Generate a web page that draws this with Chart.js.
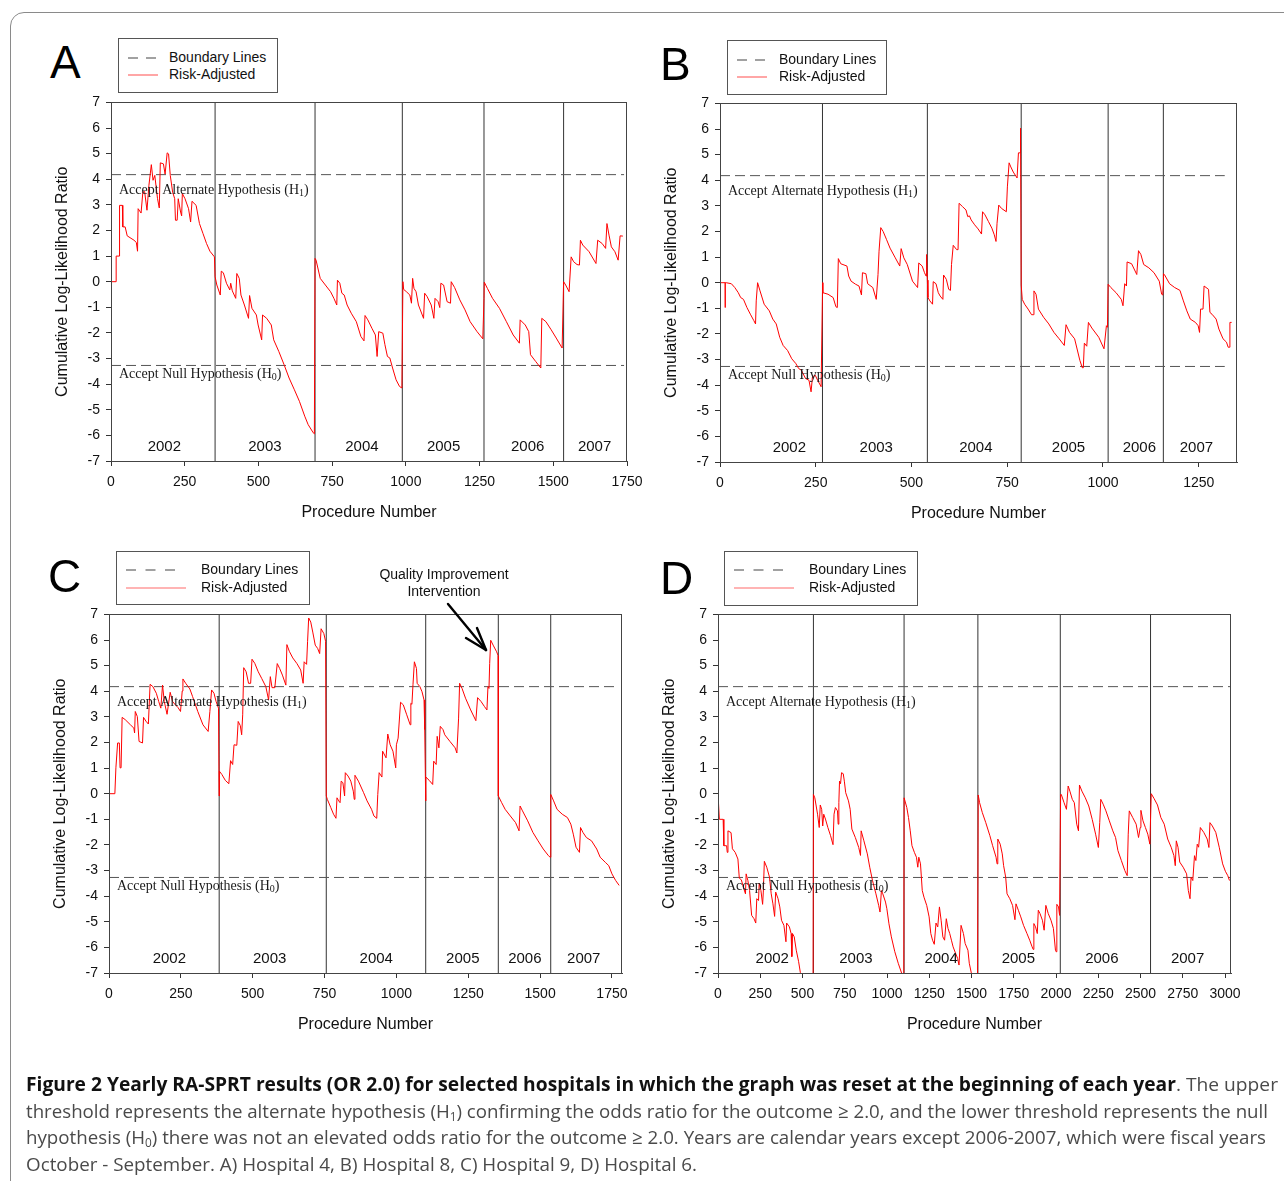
<!DOCTYPE html>
<html><head><meta charset="utf-8">
<script src="https://cdn.jsdelivr.net/npm/chart.js@4.4.0/dist/chart.umd.min.js"></script>
<style>
html,body{margin:0;padding:0;background:#fff;}
body{width:1284px;height:1181px;position:relative;overflow:hidden;font-family:"Liberation Sans",Arial,sans-serif;}
.frame{position:absolute;left:10px;top:12px;width:1300px;height:1200px;border:1px solid #8a8a8a;border-radius:14px;}
.letter{position:absolute;font-size:46px;line-height:46px;color:#000;}
.legend{position:absolute;border:1px solid #555;background:#fff;font-size:14px;color:#111;box-sizing:border-box;}
.legend .txt{position:absolute;line-height:16px;white-space:nowrap;}
.legend svg{position:absolute;}
canvas{position:absolute;}
.note{position:absolute;font-size:14px;line-height:17px;color:#111;text-align:center;width:200px;}
.cap{position:absolute;left:26px;top:1071px;font-family:"Open Sans","DejaVu Sans",sans-serif;font-size:19px;color:#4a4a4a;}
.cap .ln{height:26.7px;line-height:26.7px;white-space:nowrap;transform-origin:0 50%;display:block;}
.cap .ln span{display:inline-block;}
.cap b{color:#111;}
.cap sub{font-size:12px;vertical-align:-3px;line-height:0;}
</style></head>
<body>
<div class="frame"></div>

<script>
// ---------------- DATA ----------------
const years = ['2002','2003','2004','2005','2006','2007'];
const yTicks = [-7,-6,-5,-4,-3,-2,-1,0,1,2,3,4,5,6,7];
const xTicksA = [0,250,500,750,1000,1250,1500,1750];
const xTicksB = [0,250,500,750,1000,1250];
const xTicksC = [0,250,500,750,1000,1250,1500,1750];
const xTicksD = [0,250,500,750,1000,1250,1500,1750,2000,2250,2500,2750,3000];
const upperBoundary = 4.18;   // accept H1
const lowerBoundary = -3.27;  // accept H0

// year reset points (procedure number)
const yearStartA = [353,692,988,1265,1535];
const yearStartB = [267.6,541.5,786.5,1013.5,1157.7];
const yearStartC = [383.4,756,1102,1354.6,1537];
const yearStartD = [564.6,1100.8,1537.5,2025,2559];

// where the year names sit (procedure number)
const yearLabelXA = [181,522,851,1128,1413,1640];
const yearLabelXB = [181,408,668,910,1095,1244];
const yearLabelXC = [210,559,930,1231,1447,1652];
const yearLabelXD = [321,816,1320,1777,2271,2778];

const xMaxA = 1750, xMaxB = 1350, xMaxC = 1785, xMaxD = 3035;
const boundaryEndA = 1740, boundaryEndB = 1318, boundaryEndC = 1763, boundaryEndD = 3035;

// Risk-adjusted cumulative log-likelihood ratio: [procedure number, CLLR]
const hospA = [[0,0],[17.5,0],[17.5,1.0],[28,1.0],[29,2.98],[38.6,2.98],[40,2.14],[48,2.14],[55,1.79],[78,1.62],[86,1.53],[90,1.19],[92,2.85],[102,2.68],[108,3.5],[114,3.52],[122,2.79],[128.6,3.76],[136.8,4.57],[142.6,3.96],[148.5,4.15],[157.8,3.24],[163.7,2.88],[167.2,4.64],[177.7,4.6],[183.5,4.2],[190.5,5.03],[195.2,4.99],[201,4.15],[209,3.5],[216,3.24],[218.6,2.4],[224.4,2.4],[228,3.24],[236,2.72],[239.6,2.57],[242,3.44],[251,3.24],[263,2.85],[270,2.33],[274.7,3.14],[288.7,2.98],[300,2.27],[312,1.88],[324,1.49],[335.5,1.19],[350.7,0.97],
[353,0.19],[359,-0.13],[370.6,-0.52],[374,0.41],[381,0.35],[391.6,-0.06],[403,-0.32],[406,-0.06],[411.5,-0.36],[423,-0.65],[426.7,0.32],[435,0.13],[440.7,-0.52],[452.4,-0.91],[466.4,-1.43],[470,-0.54],[478,-1.04],[493,-1.3],[499,-1.69],[511,-2.27],[514,-1.3],[528,-1.43],[543.6,-1.69],[551.8,-2.27],[569,-2.72],[587,-3.24],[604,-3.76],[622,-4.22],[639,-4.67],[657,-5.25],[668.7,-5.58],[686,-5.9],[689.7,-5.94],
[692,0.91],[695.5,0.84],[709.6,0.13],[727,-0.13],[744.6,-0.39],[756,-0.65],[765.7,-0.91],[768,0.06],[776,-0.06],[783,-0.45],[791,-0.52],[800.8,-0.91],[814.8,-1.23],[832,-1.56],[847.5,-2.14],[858,-2.31],[861.5,-1.32],[871,-1.49],[885,-1.82],[896.6,-2.08],[902.5,-2.92],[908,-1.95],[922,-2.01],[929,-2.46],[937.5,-2.92],[945.7,-2.98],[955,-3.37],[966.8,-3.83],[978.5,-4.09],[986.6,-4.15],
[990,0],[992.5,-0.3],[1001.8,-0.39],[1013.5,-0.52],[1019,-0.84],[1023,0.13],[1027.5,-0.26],[1034.6,-0.39],[1042.7,-0.91],[1060,-1.43],[1063.8,-0.45],[1072,-0.58],[1086,-0.91],[1095,-1.43],[1098.9,-0.65],[1109.4,-0.78],[1115,-1.01],[1118.7,-0.06],[1128,-0.13],[1139.8,-0.78],[1151.5,-0.84],[1153.8,0],[1165.5,-0.23],[1183,-0.71],[1200.6,-1.1],[1218,-1.56],[1241.5,-1.95],[1261,-2.23],
[1265,-0.65],[1266,-0.02],[1276.5,-0.26],[1294,-0.65],[1317.5,-1.04],[1341,-1.56],[1364,-2.08],[1385,-2.4],[1387.6,-1.49],[1405,-1.69],[1416.8,-1.95],[1422.7,-2.85],[1440,-3.11],[1457.7,-3.37],[1461,-1.43],[1475,-1.56],[1493,-1.88],[1510,-2.2],[1530,-2.59],
[1535,0],[1542,-0.13],[1553.6,-0.39],[1560.6,0.97],[1569,0.78],[1580.5,0.67],[1588.7,0.65],[1592,1.62],[1600,1.43],[1621.4,1.17],[1644.8,0.71],[1650.6,1.62],[1665.8,1.49],[1677.5,1.3],[1682,2.27],[1689,1.82],[1697,1.36],[1709,1.17],[1720,0.84],[1726.6,1.79],[1736,1.78]];

const hospB = [[0,0],[13.5,0],[13.6,-0.97],[13.8,0],[16.2,0],[29.7,-0.04],[38.7,-0.19],[47.7,-0.39],[54,-0.58],[61.3,-0.65],[70.3,-0.97],[79.3,-1.23],[88.3,-1.48],[92.8,-1.61],[94.6,-0.71],[98.2,0],[104.5,-0.32],[115.3,-0.84],[128.8,-1.1],[137.8,-1.42],[146.8,-1.61],[155.9,-2.13],[164.9,-2.45],[176.6,-2.65],[187.4,-2.97],[198.2,-3.16],[205.4,-3.35],[212.6,-3.42],[223.4,-3.74],[232.4,-3.81],[237.8,-4.26],[241.4,-3.68],[248.6,-3.61],[255,-3.81],[264,-4.06],
[268,0],[268.5,-0.39],[282,-0.45],[295.5,-0.58],[302.7,-0.94],[306.3,-0.97],[309,0.94],[315.3,0.74],[331.5,0.65],[336,0.26],[342.3,0.06],[354,-0.06],[363,-0.13],[369.4,-0.48],[372,0.39],[381,0.35],[385.6,-0.04],[399,-0.19],[408,-0.65],[412.6,0.32],[415.3,1.23],[419.8,2.15],[426,2.0],[435,1.68],[444,1.35],[457.7,0.97],[469.4,0.65],[473,1.33],[480,0.97],[489,0.71],[502.7,0.06],[516,-0.19],[519,0.77],[528,0.65],[534,0.39],[538,0.26],[539.5,1.1],
[541.5,0.1],[543,-0.58],[548,-0.71],[555,-0.84],[556.8,0.04],[564,-0.04],[570,-0.39],[574.8,-0.52],[582,-0.65],[583.8,0.3],[591,0.13],[597.3,-0.26],[601.8,-0.3],[604.5,0.71],[609,1.46],[618,1.29],[621.6,1.29],[624.3,3.1],[633.3,2.97],[642.3,2.84],[646.9,2.58],[651.3,2.61],[655.9,2.45],[664.9,2.26],[673.9,2.1],[682.9,1.9],[685.6,2.77],[691.9,2.65],[700.9,2.39],[709.9,2.13],[716.2,1.87],[720.7,1.61],[723.4,2.32],[727.9,3.03],[735.1,2.9],[747.7,2.77],[750.4,3.74],[754.9,4.68],[759.4,4.52],[765.8,4.32],[775.7,4.09],[779.3,5.07],[783.8,5.07],[784.7,6.03],
[786.5,-0.09],[789.2,-0.65],[795.5,-0.84],[804.5,-1.03],[813.5,-1.25],[818,-1.25],[819.8,-0.32],[825.2,-0.45],[831.5,-1.03],[845,-1.35],[858.6,-1.61],[872,-1.94],[885.6,-2.19],[899,-2.45],[903.6,-1.64],[912.6,-1.94],[926,-2.19],[939.6,-3.03],[946,-3.32],[948.7,-3.32],[951.4,-2.36],[957.7,-2.48],[962,-1.55],[971,-1.77],[989,-2.13],[1002.7,-2.58],[1009,-1.68],[1011.7,-1.74],
[1013.5,-0.06],[1020.7,-0.19],[1034.2,-0.39],[1047.8,-0.65],[1052.3,-0.9],[1056.8,-0.04],[1061.3,-0.13],[1063,0.81],[1074.8,0.74],[1088.3,0.32],[1092.8,1.25],[1099,1.1],[1106.3,0.71],[1119.8,0.58],[1133.3,0.39],[1147,0.06],[1153.2,-0.45],[1156,-0.48],
[1157.7,-0.1],[1158,0.35],[1160.4,0.32],[1173.9,-0.04],[1187.4,-0.19],[1201,-0.3],[1210,-0.71],[1219,-1.1],[1228,-1.42],[1241.4,-1.55],[1248.6,-1.68],[1252.2,-1.94],[1254.9,-1.03],[1261.3,-1.03],[1264,-0.13],[1275.7,-0.26],[1279.3,-1.16],[1284.7,-1.23],[1295.5,-1.42],[1302.7,-1.81],[1313.5,-2.19],[1322.5,-2.32],[1327,-2.52],[1329.7,-2.52],[1331.5,-1.55],[1336,-1.55]];

const hospC = [[0,0],[20.4,0],[24,1.01],[30,1.98],[36,1.98],[38.5,1.01],[42,1.01],[45.7,2.98],[56.5,2.89],[74.5,2.69],[86.5,2.56],[89,2.37],[91.4,3.21],[98.6,3.01],[104.6,2.04],[116.6,1.98],[120.2,2.98],[128.6,2.83],[137,2.72],[143,4.27],[152.7,4.18],[164.7,3.92],[173,3.6],[180.3,3.34],[186.3,4.24],[192.3,3.6],[202,3.1],[212.8,3.96],[221.2,3.6],[230.8,3.47],[240.4,3.36],[248.8,3.21],[254.8,4.01],[257.2,4.48],[266.8,4.31],[281.3,4.09],[290.9,3.79],[308.9,3.21],[327,2.69],[345,2.43],[351,3.21],[357,4.05],[365.4,3.92],[372.6,3.6],[381,3.34],
[383.4,-0.09],[384,0.88],[392.8,0.75],[404.8,0.52],[417,0.39],[423,1.29],[430.3,1.14],[435,1.91],[444.7,1.89],[449.5,2.82],[456.8,2.66],[461.6,2.3],[465.2,3.08],[468.8,4.92],[477.2,4.76],[485.6,4.31],[492.8,4.31],[497.6,5.25],[507.2,5.09],[519.3,4.76],[531.3,4.5],[545.7,4.18],[555.3,3.66],[561.3,4.57],[567.3,4.14],[577,4.14],[585.4,5.08],[593.8,4.89],[603.4,4.63],[615.4,4.24],[619,5.82],[627.4,5.56],[639.5,5.3],[653.9,5.08],[667,4.83],[675.5,4.31],[679,5.15],[687.5,5.05],[691,5.95],[694.8,6.86],[702,6.7],[709,6.31],[717.6,5.8],[726,5.67],[733,5.47],[738,6.44],[747.6,6.25],[753.6,5.95],
[756,-0.09],[759.7,-0.22],[771.7,-0.54],[781.3,-0.8],[789.7,-0.96],[793.3,-0.16],[799.3,-0.28],[804,-0.35],[807.8,0.49],[813.8,0.43],[819.8,-0.09],[822.2,0.82],[831.8,0.69],[841.4,0.49],[850,0.1],[853.4,-0.22],[855.8,0.72],[867.9,0.49],[885.9,0.04],[897.9,-0.28],[913.5,-0.61],[921.9,-0.87],[931.6,-0.96],[935.2,-0.03],[940,0.82],[949.6,0.65],[952,1.66],[964,1.4],[970,2.33],[978.4,1.91],[988,1.66],[997.7,1.01],[1000,1.91],[1006,2.17],[1014.5,3.57],[1024,3.47],[1036,3.08],[1048,2.69],[1050.3,3.53],[1054,3.49],[1057.8,4.27],[1062.6,5.15],[1069.8,4.89],[1072.2,4.31],[1081.8,4.18],[1089.2,3.98],[1096.2,3.66],[1098.6,2.5],
[1102,-0.28],[1102.5,0.65],[1114.3,0.52],[1126.3,0.36],[1129.9,1.27],[1138.3,1.14],[1141.9,2.24],[1147.9,1.79],[1152.7,2.63],[1162.3,2.5],[1168.3,2.3],[1186.4,2.04],[1204.4,1.79],[1210.4,1.59],[1216.4,2.95],[1220,4.31],[1228.4,4.11],[1240.5,3.73],[1258.5,3.27],[1276.5,2.85],[1282.5,3.75],[1294.5,3.6],[1306.6,3.4],[1315,3.27],[1318.6,4.18],[1322.2,4.11],[1324.6,5.08],[1328.2,5.99],[1336.6,5.8],[1348.7,5.54],[1354.4,5.38],
[1354.8,-0.09],[1366.3,-0.35],[1378.4,-0.61],[1396.4,-0.87],[1414.8,-1.13],[1426.8,-1.45],[1430.4,-0.48],[1438.8,-0.67],[1456.8,-1.06],[1474.9,-1.51],[1492.9,-1.84],[1511,-2.16],[1529,-2.42],[1535,-2.48],
[1537.2,-0.03],[1547,-0.28],[1559,-0.61],[1577,-0.8],[1595,-0.93],[1607,-1.19],[1615.5,-1.58],[1625,-2.09],[1637,-2.29],[1640.7,-1.32],[1649,-1.51],[1661,-1.71],[1679,-1.84],[1697,-2.16],[1709,-2.48],[1727,-2.68],[1739,-2.81],[1750,-3.13],[1763,-3.39],[1775,-3.58]];

const hospD = [[0,0],[4,0],[8,-1.0],[30.5,-1.0],[34.5,-2.03],[50.8,-2.03],[54.8,-2.29],[58.9,-1.45],[77.2,-1.52],[85.3,-2.15],[101.6,-2.29],[117.8,-2.55],[126,-3.3],[138,-3.36],[152,-3.69],[162.5,-3.91],[166.5,-3.13],[176.7,-3.39],[186.9,-3.78],[199,-4.75],[213,-4.88],[223.4,-5.05],[229.5,-4.1],[239.7,-4.17],[243.7,-3.49],[253.9,-3.78],[264,-4.32],[268,-3.84],[274.2,-2.64],[288.4,-2.87],[304.7,-3.26],[314.8,-3.91],[325,-4.3],[335,-4.79],[341.2,-3.84],[355.4,-4.1],[365.6,-4.42],[375.7,-4.94],[390,-5.14],[402,-5.78],[406,-5.05],[422.4,-5.2],[432.6,-5.46],[436.7,-6.36],[440.7,-5.46],[451,-5.59],[463,-6.11],[477,-6.56],[487.4,-6.99],[540,-8.6],[562,-9.0],
[564.6,-0.03],[572.7,-0.16],[589,-0.8],[599,-1.32],[605,-0.44],[613.4,-0.61],[619.5,-1.26],[625.5,-0.8],[635.7,-0.99],[650,-1.32],[666,-1.64],[680.4,-1.99],[686.5,-0.8],[694.6,-0.54],[706.8,-0.67],[710.9,-1.19],[715,-0.35],[719,0.49],[725,0.39],[731,0.82],[741,0.78],[747.4,0.49],[755.5,0.04],[771.8,-0.28],[782,-0.61],[792,-1.38],[812.4,-1.71],[832.7,-2.1],[843,-2.41],[847,-1.45],[863.2,-1.84],[883.5,-2.35],[897.7,-2.87],[914,-3.39],[934.3,-3.91],[950.5,-4.36],[958.6,-4.62],[966.8,-3.78],[975,-3.91],[991,-4.23],[999,-4.49],[1011.4,-5.08],[1025.6,-5.59],[1046,-6.17],[1066.3,-6.62],[1086.6,-7.01],[1099,-7.4],
[1101,-0.16],[1117,-0.54],[1127,-0.93],[1137.4,-1.45],[1147.5,-2.03],[1161.7,-2.29],[1174,-2.48],[1182,-2.87],[1188,-2.48],[1198,-2.74],[1208.4,-3.78],[1218.6,-4.04],[1234.8,-4.36],[1249,-4.81],[1259,-5.46],[1269.4,-5.72],[1279.5,-5.88],[1289.7,-5.05],[1300,-5.2],[1310,-4.42],[1320,-4.94],[1330.3,-5.59],[1340.5,-5.72],[1350.6,-4.88],[1360.8,-5.26],[1371,-5.46],[1381,-5.72],[1391,-5.98],[1405.5,-6.23],[1417.6,-6.43],[1425.8,-6.69],[1438,-5.14],[1452,-5.46],[1462.3,-5.85],[1478.6,-6.11],[1486.7,-6.62],[1499,-7.01],[1535,-7.8],
[1539.5,-0.05],[1547.6,-0.35],[1563.9,-0.74],[1584.2,-1.13],[1608.5,-1.64],[1624.8,-2.03],[1645,-2.48],[1651.2,-2.74],[1655.3,-1.77],[1669.5,-1.97],[1681.7,-2.35],[1689.8,-2.81],[1702,-3.26],[1710,-3.91],[1726.4,-4.1],[1742.6,-4.36],[1756.8,-4.92],[1763,-4.3],[1777,-4.55],[1791.3,-4.81],[1807.6,-5.14],[1828,-5.46],[1844,-5.72],[1858.4,-5.98],[1864.8,-6.08],[1868.7,-5.07],[1878.8,-5.2],[1889,-5.46],[1895,-4.55],[1905,-4.68],[1919.3,-4.94],[1929.5,-5.33],[1939.6,-4.36],[1953.8,-4.68],[1970,-4.94],[1984.3,-5.26],[1996.5,-6.11],[2000.5,-6.17],[2004.6,-4.32],[2014.8,-4.42],[2021,-4.75],
[2027,-0.03],[2031,-0.03],[2047.2,-0.35],[2061.5,-0.61],[2071.6,0.3],[2081.8,0.1],[2096,-0.22],[2108,-0.35],[2122.4,-1.19],[2132.6,-1.45],[2138.6,0.34],[2152.9,0.1],[2173,-0.16],[2193.5,-0.48],[2213.8,-1.0],[2234,-1.58],[2250.3,-2.1],[2258.5,-1.13],[2264.6,-0.22],[2278.8,-0.41],[2295,-0.67],[2315.3,-1.06],[2335.7,-1.45],[2352,-1.71],[2366,-2.22],[2386.4,-2.61],[2406.7,-3.0],[2421,-3.2],[2427,-1.58],[2433.2,-0.67],[2453.4,-0.93],[2473.8,-1.19],[2488,-1.71],[2498,-1.32],[2502,-0.65],[2514.3,-1.06],[2528.6,-1.32],[2542.7,-1.58],[2555,-1.97],
[2563,0],[2579,-0.18],[2600,-0.44],[2620,-0.93],[2640,-1.19],[2660.6,-1.77],[2681,-2.09],[2697,-2.41],[2705.3,-2.81],[2711.4,-1.84],[2721.5,-2.09],[2731.7,-2.67],[2752,-2.87],[2772.3,-3.13],[2782.5,-3.78],[2792.6,-4.1],[2798.7,-3.26],[2808.9,-3.39],[2819,-2.42],[2827.2,-2.61],[2835.3,-1.97],[2843.4,-2.09],[2853.6,-1.32],[2873.9,-1.51],[2894.2,-1.77],[2904.3,-2.1],[2910.4,-1.13],[2924.6,-1.26],[2944.9,-1.51],[2965.3,-2.09],[2985.6,-2.74],[3001.8,-3.03],[3016,-3.2],[3026,-3.39]];

// ---------------- LAYOUT ----------------
const W_Y = 75, P_T = 12, P_R = 25, H_X = 70;
const panels = [
  {key:'A', rect:{l:111,t:100,r:627,b:461}, data:hospA, starts:yearStartA, labX:yearLabelXA, ticks:xTicksA, xMax:xMaxA, bEnd:boundaryEndA,
   letter:{x:50,y:39}, legend:{l:118,t:38,w:160,h:55,dash:28,red:30,textX:50,rows:[19,36]}},
  {key:'B', rect:{l:720,t:101,r:1237,b:462}, data:hospB, starts:yearStartB, labX:yearLabelXB, ticks:xTicksB, xMax:xMaxB, bEnd:boundaryEndB,
   letter:{x:660,y:41}, legend:{l:727,t:40,w:160,h:55,dash:28,red:30,textX:51,rows:[19,36]}},
  {key:'C', rect:{l:109,t:612,r:622,b:973}, data:hospC, starts:yearStartC, labX:yearLabelXC, ticks:xTicksC, xMax:xMaxC, bEnd:boundaryEndC,
   letter:{x:48,y:553}, legend:{l:116,t:551,w:194,h:54,dash:49,red:60,textX:84,rows:[18,36]}},
  {key:'D', rect:{l:718,t:612,r:1231,b:973}, data:hospD, starts:yearStartD, labX:yearLabelXD, ticks:xTicksD, xMax:xMaxD, bEnd:boundaryEndD,
   letter:{x:660,y:555}, legend:{l:724,t:551,w:194,h:55,dash:49,red:60,textX:84,rows:[18,36]}}
];

Chart.defaults.font.family = '"Liberation Sans", Arial, sans-serif';
Chart.defaults.color = '#111';

function drawHyp(ctx, main, sub, x, y){
  const big = '14px "Liberation Serif", "Times New Roman", serif';
  ctx.font = big;
  ctx.textAlign = 'left'; ctx.textBaseline = 'middle'; ctx.fillStyle = '#1a1a1a';
  ctx.fillText(main, x, y);
  const w = ctx.measureText(main).width;
  ctx.font = '10px "Liberation Serif", serif';
  ctx.fillText(sub, x + w, y + 3);
  const w2 = ctx.measureText(sub).width;
  ctx.font = big;
  ctx.fillText(')', x + w + w2, y);
}

const annotPlugin = {
  id: 'annot',
  afterDatasetsDraw(chart, args, opts){
    const {ctx, chartArea:a, scales:{x, y}} = chart;
    ctx.save();
    ctx.strokeStyle = '#444'; ctx.lineWidth = 1;
    ctx.strokeRect(Math.round(a.left)+0.5, Math.round(a.top)+0.5, Math.round(a.width)-1, Math.round(a.height));
    ctx.font = '15px "Liberation Sans", Arial, sans-serif';
    ctx.fillStyle = '#111'; ctx.textAlign = 'center'; ctx.textBaseline = 'middle';
    years.forEach((t, i) => ctx.fillText(t, x.getPixelForValue(opts.labX[i]), y.getPixelForValue(-6.43)));
    drawHyp(ctx, 'Accept Alternate Hypothesis (H', '1', a.left + 8, y.getPixelForValue(upperBoundary - 0.61));
    drawHyp(ctx, 'Accept Null Hypothesis (H', '0', a.left + 8, y.getPixelForValue(lowerBoundary - 0.36));
    ctx.restore();
  }
};

panels.forEach(p => {
  const pw = p.rect.r - p.rect.l, ph = p.rect.b - p.rect.t;
  const cv = document.createElement('canvas');
  cv.width = pw + W_Y + P_R; cv.height = ph + P_T + H_X;
  cv.style.left = (p.rect.l - W_Y) + 'px'; cv.style.top = (p.rect.t - P_T) + 'px';
  cv.style.width = cv.width + 'px'; cv.style.height = cv.height + 'px';
  document.body.appendChild(cv);

  const yearLines = [];
  p.starts.forEach(s => { yearLines.push({x:s,y:-7},{x:s,y:7},{x:s,y:null}); });

  new Chart(cv, {
    type: 'line',
    data: {
      datasets: [
        {label:'Risk-Adjusted', data:p.data.map(([px,py]) => ({x:px, y:py})), borderColor:'rgb(255,0,0)', borderWidth:1, pointRadius:0, tension:0},
        {label:'Boundary Lines', data:[{x:0,y:upperBoundary},{x:p.bEnd,y:upperBoundary}], borderColor:'#555', borderDash:[10,5], borderWidth:1, pointRadius:0},
        {label:'Boundary Lines (lower)', data:[{x:0,y:lowerBoundary},{x:p.bEnd,y:lowerBoundary}], borderColor:'#555', borderDash:[10,5], borderWidth:1, pointRadius:0},
        {label:'Year reset', data:yearLines, borderColor:'#333', borderWidth:1, pointRadius:0, spanGaps:false}
      ]
    },
    options: {
      responsive:false, animation:false, devicePixelRatio:1,
      layout:{padding:{top:P_T, right:P_R, left:0, bottom:0}},
      plugins:{legend:{display:false}, tooltip:{enabled:false}, annot:{labX:p.labX}},
      scales:{
        x:{type:'linear', min:0, max:p.xMax,
           afterBuildTicks: s => { s.ticks = p.ticks.map(v => ({value:v})); },
           afterFit: s => { s.height = H_X; },
           grid:{display:true, drawOnChartArea:false, drawTicks:true, tickLength:5, color:'#333'},
           border:{display:true, color:'#444'},
           ticks:{font:{size:14}, color:'#111', padding:8, maxRotation:0, autoSkip:false, callback:v => String(v)},
           title:{display:true, text:'Procedure Number', font:{size:16}, color:'#111', padding:{top:0, bottom:9}}},
        y:{type:'linear', min:-7, max:7,
           afterBuildTicks: s => { s.ticks = yTicks.map(v => ({value:v})); },
           afterFit: s => { s.width = W_Y; },
           grid:{display:true, drawOnChartArea:false, drawTicks:true, tickLength:5, color:'#333'},
           border:{display:true, color:'#444'},
           ticks:{font:{size:14}, color:'#111', padding:6, autoSkip:false, callback:v => String(v)},
           title:{display:true, text:'Cumulative Log-Likelihood Ratio', font:{size:16}, color:'#111', padding:{top:17, bottom:0}}}
      }
    },
    plugins:[annotPlugin]
  });

  const L = document.createElement('div');
  L.className = 'letter'; L.textContent = p.key;
  L.style.left = p.letter.x + 'px'; L.style.top = p.letter.y + 'px';
  document.body.appendChild(L);

  const g = p.legend;
  const box = document.createElement('div');
  box.className = 'legend';
  box.style.left = g.l + 'px'; box.style.top = g.t + 'px'; box.style.width = g.w + 'px'; box.style.height = g.h + 'px';
  const items = [['Boundary Lines', '#444', g.dash === 28 ? '10 8' : '10 9.5', g.dash], ['Risk-Adjusted', '#ff6b6b', '', g.red]];
  items.forEach((it, i) => {
    const svg = document.createElementNS('http://www.w3.org/2000/svg', 'svg');
    svg.setAttribute('width', it[3] + 2); svg.setAttribute('height', 4);
    svg.style.left = '9px'; svg.style.top = (g.rows[i] - 2) + 'px';
    const ln = document.createElementNS('http://www.w3.org/2000/svg', 'line');
    ln.setAttribute('x1', 0); ln.setAttribute('x2', it[3]); ln.setAttribute('y1', 2); ln.setAttribute('y2', 2);
    ln.setAttribute('stroke', it[1]); ln.setAttribute('stroke-width', 1.2);
    if (it[2]) ln.setAttribute('stroke-dasharray', it[2]);
    svg.appendChild(ln); box.appendChild(svg);
    const t = document.createElement('div');
    t.className = 'txt'; t.textContent = it[0];
    t.style.left = g.textX + 'px'; t.style.top = (g.rows[i] - 9) + 'px';
    box.appendChild(t);
  });
  document.body.appendChild(box);
});
</script>

<div class="note" style="left:344px;top:566px;">Quality Improvement<br>Intervention</div>
<svg style="position:absolute;left:0;top:0;" width="1284" height="1181">
  <g stroke="#000" stroke-width="2.4" fill="none" stroke-linecap="round">
    <line x1="448" y1="604" x2="486" y2="650"/>
    <line x1="486" y1="650" x2="466" y2="638"/>
    <line x1="486" y1="650" x2="477" y2="628"/>
  </g>
</svg>

<div class="cap">
  <div class="ln" data-w="1252"><span><b>Figure 2 Yearly RA-SPRT results (OR 2.0) for selected hospitals in which the graph was reset at the beginning of each year</b>. The upper</span></div>
  <div class="ln" data-w="1242"><span>threshold represents the alternate hypothesis (H<sub>1</sub>) confirming the odds ratio for the outcome ≥ 2.0, and the lower threshold represents the null</span></div>
  <div class="ln" data-w="1240"><span>hypothesis (H<sub>0</sub>) there was not an elevated odds ratio for the outcome ≥ 2.0. Years are calendar years except 2006-2007, which were fiscal years</span></div>
  <div class="ln" data-w="671"><span>October - September. A) Hospital 4, B) Hospital 8, C) Hospital 9, D) Hospital 6.</span></div>
</div>
<script>
document.querySelectorAll('.cap .ln').forEach(el => {
  const sp = el.querySelector('span');
  const w = sp.getBoundingClientRect().width;
  const target = parseFloat(el.dataset.w);
  if (w > 0) el.style.transform = 'scaleX(' + (target / w) + ')';
});
</script>
</body></html>
